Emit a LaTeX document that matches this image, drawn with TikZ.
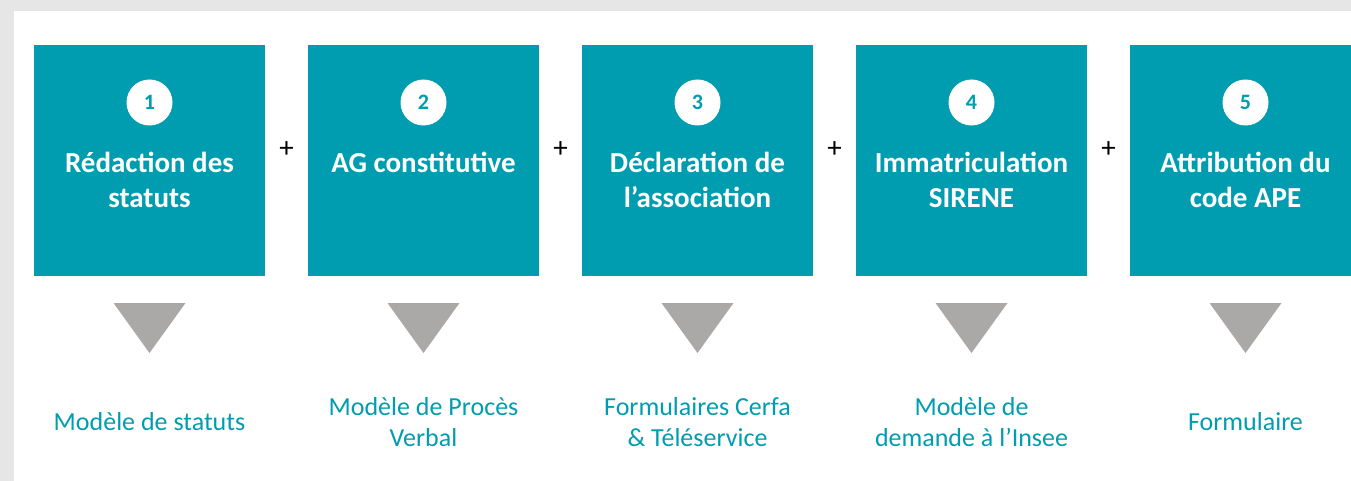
\documentclass[tikz,border=0pt]{standalone}
\usepackage{fontspec}
\setmainfont{Carlito}
\usepackage{tikz}
\usetikzlibrary{positioning}
\usetikzlibrary{calc}
\definecolor{stepteal}{HTML}{009DB0}
\definecolor{trigray}{HTML}{ABA8A8}
\definecolor{bggray}{HTML}{E6E6E6}
\tikzstyle{stepbox} = [fill=stepteal, minimum size=231pt, inner sep=0pt, outer sep=0pt]
\tikzstyle{stepnum} = [circle, fill=white, minimum size=46pt, inner sep=0pt, text=stepteal, font=\bfseries\fontsize{22}{26}\selectfont]
\tikzstyle{steptitle} = [text=white, align=center, anchor=north, inner sep=0pt, font=\bfseries\fontsize{29}{35}\selectfont, execute at begin node=\strut]
\tikzstyle{plussign} = [inner sep=0pt, font=\fontsize{29}{35}\selectfont]
\tikzstyle{doclabel} = [text=stepteal, align=center, inner sep=0pt, font=\fontsize{26}{31}\selectfont]
\tikzstyle{tri} = [fill=trigray]

\begin{document}
\begin{tikzpicture}[x=1pt,y=-1pt]
			% frame
			\fill[bggray] (0,0) rectangle (1351,481);
			\fill[white] (14,11) rectangle (1351,481);
			\useasboundingbox (0,0) rectangle (1351,481);
			\clip (0,0) rectangle (1351,481);
			
			% steps
			\node[stepbox] (box1) at (149.5,160.5) {};
			\node[stepbox,
			right=43pt of box1
			] (box2) {};
			\node[stepbox,
			right=43pt of box2
			] (box3) {};
			\node[stepbox,
			right=43pt of box3
			] (box4) {};
			\node[stepbox,
			right=43pt of box4
			] (box5) {};
			
			\node[stepnum] (num1) at ($ (box1.center) + (0,-58) $) {1};
			\node[stepnum] (num2) at ($ (box2.center) + (0,-58) $) {2};
			\node[stepnum] (num3) at ($ (box3.center) + (0,-58) $) {3};
			\node[stepnum] (num4) at ($ (box4.center) + (0,-58) $) {4};
			\node[stepnum] (num5) at ($ (box5.center) + (0,-58) $) {5};
			
			\node[steptitle] (title1) at ($ (box1.center) + (0,-9) $) {Rédaction des\\statuts};
			\node[steptitle] (title2) at ($ (box2.center) + (0,-13) $) {AG constitutive};
			\node[steptitle] (title3) at ($ (box3.center) + (0,-9) $) {Déclaration de\\l’association};
			\node[steptitle] (title4) at ($ (box4.center) + (0,-9) $) {Immatriculation\\SIRENE};
			\node[steptitle] (title5) at ($ (box5.center) + (0,-9) $) {Attribution du\\code APE};
			
			% plus signs
			\node[plussign] (plus12) at ($ (box1.east)!0.5!(box2.west) + (0,-11) $) {+};
			\node[plussign] (plus23) at ($ (box2.east)!0.5!(box3.west) + (0,-11) $) {+};
			\node[plussign] (plus34) at ($ (box3.east)!0.5!(box4.west) + (0,-11) $) {+};
			\node[plussign] (plus45) at ($ (box4.east)!0.5!(box5.west) + (0,-11) $) {+};
			
			% triangles
			\fill[tri] ($ (box1.south) + (-36,27) $) -- ++(72,0) -- ($ (box1.south) + (0,77) $) -- cycle;
			\fill[tri] ($ (box2.south) + (-36,27) $) -- ++(72,0) -- ($ (box2.south) + (0,77) $) -- cycle;
			\fill[tri] ($ (box3.south) + (-36,27) $) -- ++(72,0) -- ($ (box3.south) + (0,77) $) -- cycle;
			\fill[tri] ($ (box4.south) + (-36,27) $) -- ++(72,0) -- ($ (box4.south) + (0,77) $) -- cycle;
			\fill[tri] ($ (box5.south) + (-36,27) $) -- ++(72,0) -- ($ (box5.south) + (0,77) $) -- cycle;
			
			% documents
			\node[doclabel] (doc1) at ($ (box1.south) + (0,146) $) {Modèle de statuts};
			\node[doclabel] (doc2) at ($ (box2.south) + (0,146) $) {Modèle de Procès\\Verbal};
			\node[doclabel] (doc3) at ($ (box3.south) + (0,146) $) {Formulaires Cerfa\\\& Téléservice};
			\node[doclabel] (doc4) at ($ (box4.south) + (0,146) $) {Modèle de\\demande à l’Insee};
			\node[doclabel] (doc5) at ($ (box5.south) + (0,146) $) {Formulaire};
		\end{tikzpicture}
\end{document}
